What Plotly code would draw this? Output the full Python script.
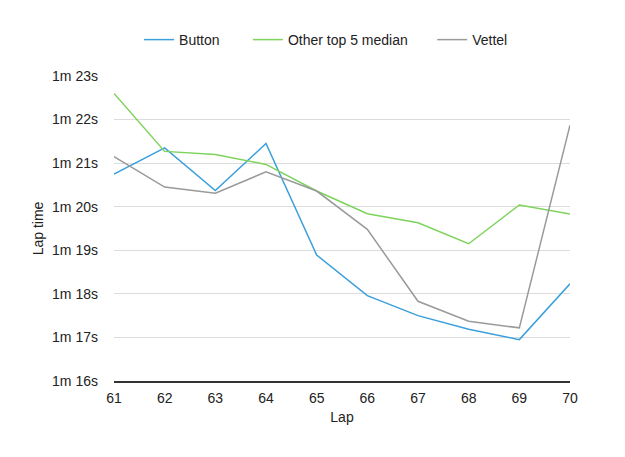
import plotly.graph_objects as go

# lap times in seconds
laps = [61, 62, 63, 64, 65, 66, 67, 68, 69, 70]
button = [80.75, 81.35, 80.37, 81.45, 78.89, 77.96, 77.50, 77.19, 76.95, 78.23]
other_median = [82.60, 81.27, 81.20, 80.97, 80.36, 79.84, 79.63, 79.15, 80.04, 79.83]
vettel = [81.15, 80.45, 80.31, 80.80, 80.36, 79.48, 77.83, 77.37, 77.22, 81.87]

tick_vals = [76, 77, 78, 79, 80, 81, 82, 83]
tick_text = ["1m 16s", "1m 17s", "1m 18s", "1m 19s", "1m 20s", "1m 21s", "1m 22s", "1m 23s"]

# non-breaking spaces just widen the gaps between legend entries
pad = "\u00a0"

fig = go.Figure()
fig.add_trace(go.Scatter(x=laps, y=button, name="Button" + pad * 6, mode="lines",
                         line=dict(color="#3b9fdb", width=1.5)))
fig.add_trace(go.Scatter(x=laps, y=other_median, name="Other top 5 median" + pad * 5, mode="lines",
                         line=dict(color="#7dd35b", width=1.5)))
fig.add_trace(go.Scatter(x=laps, y=vettel, name="Vettel", mode="lines",
                         line=dict(color="#9a9a9a", width=1.5)))

fig.update_layout(
    width=625, height=457,
    margin=dict(l=106, r=63, t=68, b=84),
    paper_bgcolor="white", plot_bgcolor="white",
    font=dict(family="Liberation Sans, Arial, sans-serif", size=14, color="#222"),
    legend=dict(orientation="h", x=0.055, xanchor="left", y=1.118, yanchor="middle",
                font=dict(size=14)),
    xaxis=dict(range=[61, 70], tickvals=laps, showgrid=False, zeroline=False,
               showline=True, linecolor="#333", linewidth=1.5, ticks="",
               ticklabelstandoff=3,
               title=dict(text="Lap", standoff=8, font=dict(size=14))),
    yaxis=dict(range=[76, 83], tickvals=tick_vals, ticktext=tick_text,
               showgrid=True, gridcolor="#dcdcdc", gridwidth=1, zeroline=False,
               showline=False, ticks="", ticklabelstandoff=15,
               title=dict(text="Lap time", standoff=5, font=dict(size=14))),
)

fig.write_html("out.html")
